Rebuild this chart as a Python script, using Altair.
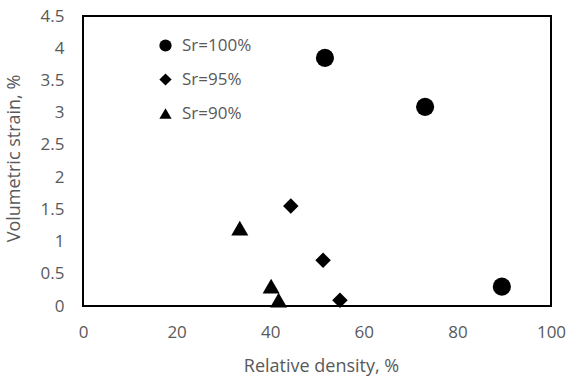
import altair as alt
import pandas as pd

series = ["Sr=100%", "Sr=95%", "Sr=90%"]
density_100 = [51.7, 73.1, 89.5]
strain_100 = [3.85, 3.09, 0.30]
density_95 = [44.4, 51.3, 54.9]
strain_95 = [1.55, 0.71, 0.09]
density_90 = [33.5, 40.2, 41.8]
strain_90 = [1.21, 0.31, 0.09]

x_ticks = [0, 20, 40, 60, 80, 100]
y_ticks = [0, 0.5, 1, 1.5, 2, 2.5, 3, 3.5, 4, 4.5]

rows = []
for name, xs, ys in zip(series, [density_100, density_95, density_90], [strain_100, strain_95, strain_90]):
    for x, y in zip(xs, ys):
        rows.append({"series": name, "density": x, "strain": y})
df = pd.DataFrame(rows)

FONT = "Open Sans"
GRAY = "#595959"
FS = 17
TFS = 18

x_enc = alt.X("density:Q", scale=alt.Scale(domain=[0, 100], nice=False),
              axis=alt.Axis(values=x_ticks, title="Relative density, %", grid=False, domain=False, ticks=False,
                            labelFlush=False, labelPadding=18, labelFontSize=FS, labelColor=GRAY, labelFont=FONT,
                            titleFontSize=TFS, titleColor=GRAY, titleFont=FONT, titleFontWeight="normal",
                            titleX=238, titleY=60, titleBaseline="middle", titleAlign="center"))
y_enc = alt.Y("strain:Q", scale=alt.Scale(domain=[0, 4.5], nice=False),
              axis=alt.Axis(values=y_ticks, format=".1~f", title="Volumetric strain, %", grid=False, domain=False,
                            ticks=False, labelFlush=False, labelPadding=19, labelFontSize=FS, labelColor=GRAY,
                            labelFont=FONT, titleFontSize=TFS, titleColor=GRAY, titleFont=FONT,
                            titleFontWeight="normal", titleX=-69, titleY=142, titleAngle=270,
                            titleBaseline="middle", titleAlign="center"))
shape_enc = alt.Shape("series:N", scale=alt.Scale(domain=series, range=["circle", "diamond", "triangle-up"]),
                      legend=alt.Legend(title=None, orient="none", legendX=74, legendY=21, symbolSize=150,
                                        symbolFillColor="black", symbolStrokeColor="black", symbolStrokeWidth=0,
                                        labelFontSize=FS, labelColor=GRAY, labelFont=FONT, labelOffset=8,
                                        rowPadding=16, padding=0))

sizes = {"Sr=100%": 330, "Sr=95%": 240, "Sr=90%": 290}
layers = []
for name in series:
    layers.append(
        alt.Chart(df).transform_filter(alt.datum.series == name)
        .mark_point(filled=True, color="black", opacity=1, size=sizes[name])
        .encode(x=x_enc, y=y_enc, shape=shape_enc)
    )

chart = alt.layer(*layers).properties(
    width=468, height=290,
    autosize=alt.AutoSizeParams(type="none"),
    padding={"left": 83, "top": 16, "right": 20, "bottom": 74},
).configure(background="white").configure_view(stroke="black", strokeWidth=2)

chart.save("out.html", embed_options={"renderer": "svg", "actions": False})
